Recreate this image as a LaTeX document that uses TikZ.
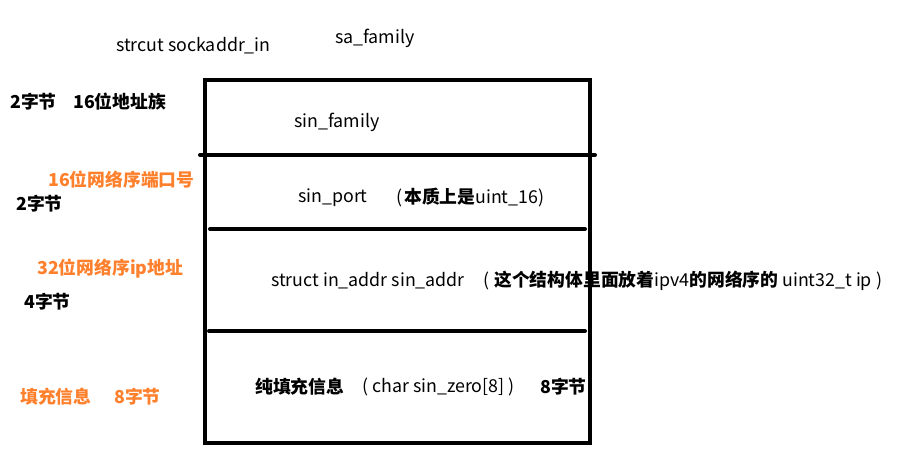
\documentclass[tikz,border=0pt]{standalone}
\usepackage{fontspec}
\setmainfont{Noto Sans CJK SC}
\definecolor{lbl}{RGB}{255,128,44}
\begin{document}
\begin{tikzpicture}[x=1pt,y=-1pt,
  txt/.style={anchor=west,inner sep=0pt,font=\fontsize{17.8}{19}\selectfont},
  orng/.style={txt,text=lbl,font=\fontsize{17.8}{19}\selectfont\bfseries},
  bold/.style={txt,font=\fontsize{17.8}{19}\selectfont\bfseries},
  thick line/.style={line width=4pt,line cap=round}]
\useasboundingbox (0,0) rectangle (909,453);
% box
\coordinate (tl) at (205,80); \coordinate (tr) at (590,80);
\coordinate (bl) at (205,443); \coordinate (br) at (590,443);
\draw[line width=4pt] (205,78) -- (205,445);
\draw[line width=4pt] (590,78) -- (590,445);
\draw[line width=4pt] (tl) -- (592,80);
\draw[line width=4pt] (bl) -- (592,443);
\coordinate (d1a) at (200,155); \coordinate (d1b) at (595,155);
\coordinate (d2a) at (210,229); \coordinate (d2b) at (585,229);
\coordinate (d3a) at (209,331); \coordinate (d3b) at (585,331);
\draw[thick line] (d1a) -- (d1b);
\draw[thick line] (d2a) -- (d2b);
\draw[thick line] (d3a) -- (d3b);
% texts
\node[txt] (title) at (116,46) {strcut sockaddr\_in};
\node[txt] (safam) at (335,38) {sa\_family};
\node[bold] (b1) at (10,102) {2字节};
\node[bold] (b1d) at (73,102) {16位地址族};
\node[txt] (sinfam) at (294,122) {sin\_family};
\node[orng] (o2) at (48,180) {16位网络序端口号};
\node[bold] (b2) at (16,204) {2字节};
\node[txt] (sinport) at (298,198) {sin\_port};
\node[txt] (sinportd) at (396,198) {(\hspace{2pt}\textbf{本质上是}uint\_16)};
\node[orng] (o3) at (37,269) {32位网络序ip地址};
\node[bold] (b3) at (24,302) {4字节};
\node[txt] (sinaddr) at (271,281) {struct in\_addr sin\_addr};
\node[txt] (sinaddrd) at (483,281) {(\hspace{5pt}\textbf{这个结构体里面放着}ipv4\textbf{的网络序的} uint32\_t ip\hspace{4pt})};
\node[orng] (o4) at (20,397) {填充信息};
\node[orng] (o4b) at (114,397) {8字节};
\node[bold] (pad) at (255,387) {纯填充信息};
\node[txt] (padc) at (362,387) {( char sin\_zero[8]\hspace{4pt})};
\node[bold] (padb) at (540,387) {8字节};
\end{tikzpicture}
\end{document}
